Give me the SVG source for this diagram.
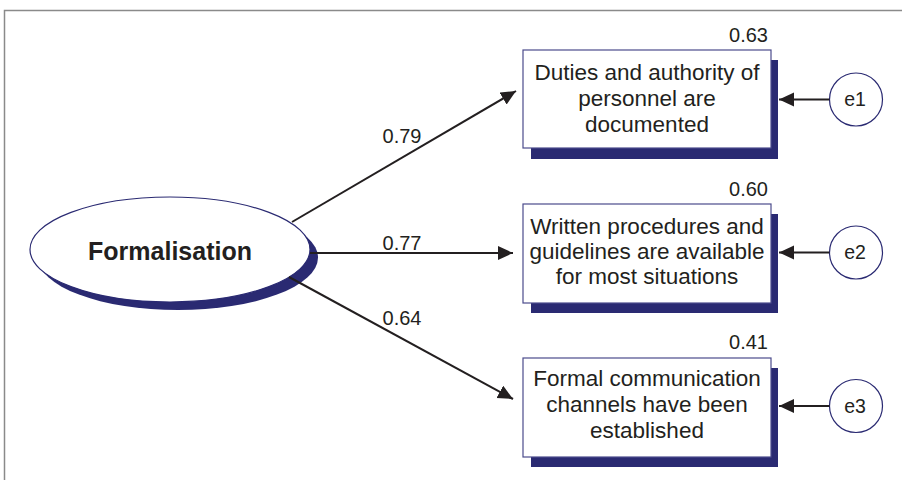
<svg xmlns="http://www.w3.org/2000/svg" width="902" height="480" viewBox="0 0 902 480">
  <style>
    .frame { fill: none; stroke: #8a8a8a; stroke-width: 1.5; }
    .box { fill: #ffffff; stroke: #4b4b8c; stroke-width: 1.2; }
    .shadow { fill: #2a2a72; stroke: none; }
    .err { fill: #ffffff; stroke: #2a2a72; stroke-width: 1.2; }
    .edge { stroke: #231f20; stroke-width: 2; fill: none; }
    .lbl { font-family: "Liberation Sans", Arial, sans-serif; fill: #231f20; }
    .item { font-size: 22.5px; text-anchor: middle; }
    .coef { font-size: 20px; text-anchor: middle; }
    .r2 { font-size: 20px; text-anchor: end; }
    .ename { font-size: 19.5px; text-anchor: middle; }
  </style>
  <defs>
    <marker id="head" markerUnits="userSpaceOnUse" markerWidth="17" markerHeight="16" refX="15" refY="7" orient="auto">
      <path d="M0,0 L15,7 L0,14 z" fill="#231f20"/>
    </marker>
  </defs>

  <rect width="902" height="480" fill="#ffffff"/>
  <path class="frame" d="M4.5,480 V10.5 H902"/>

  <!-- latent factor -->
  <g id="formalisation">
    <ellipse class="shadow" cx="178" cy="257.5" rx="140" ry="52.5"/>
    <ellipse class="err" cx="170" cy="249.5" rx="140" ry="52.5"/>
    <text class="lbl" x="170" y="260" font-size="25" font-weight="bold" text-anchor="middle">Formalisation</text>
  </g>

  <!-- indicator 1 -->
  <g id="item1">
    <rect class="shadow" x="531" y="60" width="247" height="99"/>
    <rect class="box" x="523" y="50" width="248" height="98"/>
    <text class="lbl item" x="647" y="80">Duties and authority of</text>
    <text class="lbl item" x="647" y="106">personnel are</text>
    <text class="lbl item" x="647" y="132">documented</text>
    <text class="lbl r2" x="768" y="42">0.63</text>
  </g>

  <!-- indicator 2 -->
  <g id="item2">
    <rect class="shadow" x="531" y="214" width="247" height="99"/>
    <rect class="box" x="523" y="204" width="248" height="99"/>
    <text class="lbl item" x="647" y="234">Written procedures and</text>
    <text class="lbl item" x="647" y="259">guidelines are available</text>
    <text class="lbl item" x="647" y="284">for most situations</text>
    <text class="lbl r2" x="768" y="196">0.60</text>
  </g>

  <!-- indicator 3 -->
  <g id="item3">
    <rect class="shadow" x="531" y="368" width="247" height="99"/>
    <rect class="box" x="523" y="358" width="248" height="99"/>
    <text class="lbl item" x="647" y="386">Formal communication</text>
    <text class="lbl item" x="647" y="412">channels have been</text>
    <text class="lbl item" x="647" y="438">established</text>
    <text class="lbl r2" x="768" y="349">0.41</text>
  </g>

  <!-- error terms -->
  <g id="e1">
    <circle class="err" cx="856" cy="99.5" r="26.5"/>
    <text class="lbl ename" x="855" y="106">e1</text>
  </g>
  <g id="e2">
    <circle class="err" cx="856" cy="252.5" r="26.5"/>
    <text class="lbl ename" x="855" y="259">e2</text>
  </g>
  <g id="e3">
    <circle class="err" cx="856" cy="406" r="26.5"/>
    <text class="lbl ename" x="855" y="412.5">e3</text>
  </g>

  <!-- paths and loadings -->
  <g id="connectors">
    <line class="edge" x1="292" y1="222" x2="516" y2="91" marker-end="url(#head)"/>
    <line class="edge" x1="310" y1="253" x2="513" y2="253" marker-end="url(#head)"/>
    <line class="edge" x1="289" y1="277" x2="513" y2="399" marker-end="url(#head)"/>
    <line class="edge" x1="829.5" y1="99.5" x2="779" y2="99.5" marker-end="url(#head)"/>
    <line class="edge" x1="829.5" y1="252.5" x2="779" y2="252.5" marker-end="url(#head)"/>
    <line class="edge" x1="829.5" y1="406" x2="779" y2="406" marker-end="url(#head)"/>
    <text class="lbl coef" x="402" y="143">0.79</text>
    <text class="lbl coef" x="402" y="250">0.77</text>
    <text class="lbl coef" x="402" y="325">0.64</text>
  </g>
</svg>
